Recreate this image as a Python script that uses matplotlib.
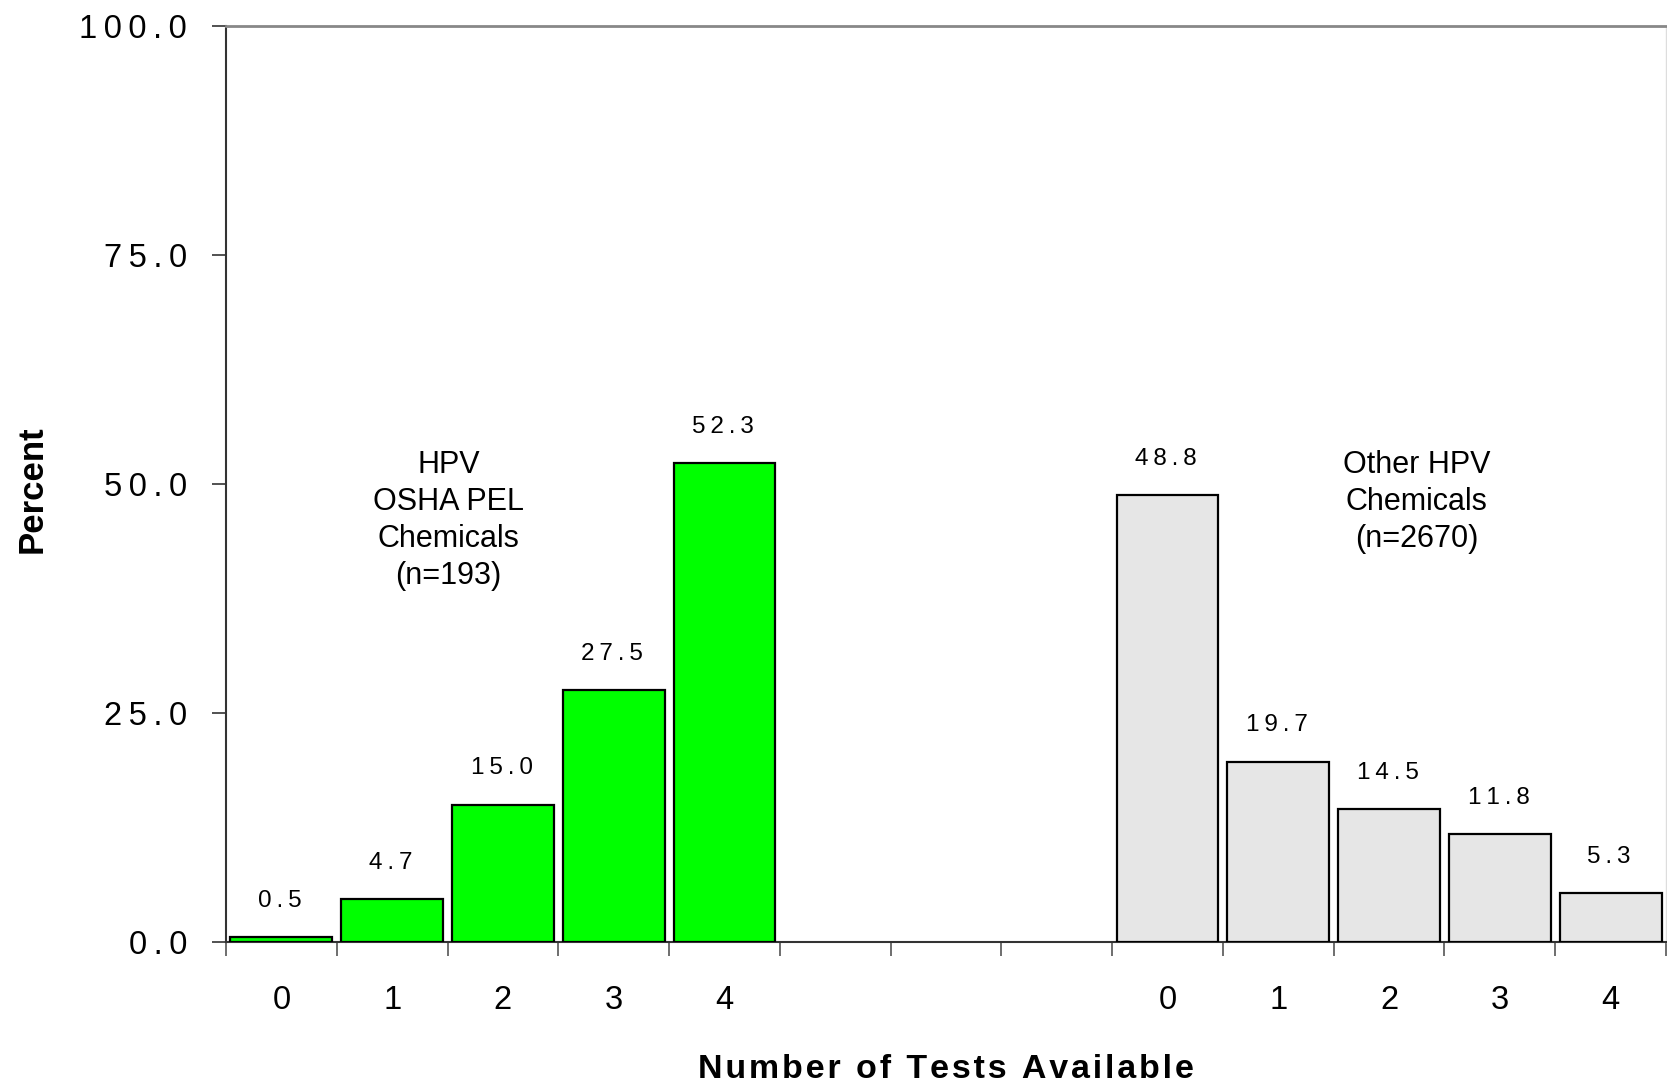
import matplotlib
matplotlib.use("Agg")
import matplotlib.pyplot as plt
import numpy as np

plt.rcParams['font.family'] = ['Liberation Sans', 'DejaVu Sans']

# data
tests = ["0", "1", "2", "3", "4"]
osha_pct = [0.5, 4.7, 15.0, 27.5, 52.3]
other_pct = [48.8, 19.7, 14.5, 11.8, 5.3]
y_ticks = [0.0, 25.0, 50.0, 75.0, 100.0]

def spaced(s, sep="\u2009"):
    return sep.join(s)

fig = plt.figure(figsize=(16.67, 10.88), dpi=100)
ax = fig.add_axes([226 / 1667, 1 - 942 / 1088, (1666 - 226) / 1667, (942 - 26) / 1088])

x1 = np.arange(5)
x2 = np.arange(5) + 8
ax.bar(x1, osha_pct, width=0.92, color="#00FF00", edgecolor="black", linewidth=1.6, zorder=3)
ax.bar(x2, other_pct, width=0.92, color="#E6E6E6", edgecolor="black", linewidth=1.6, zorder=3)

for xs, vals in ((x1, osha_pct), (x2, other_pct)):
    for x, v in zip(xs, vals):
        ax.annotate(spaced(f"{v:.1f}"), (x, v), xytext=(-1, 26), textcoords="offset points",
                    ha="center", va="center", fontsize=17.5)

ax.text(1.51, 46.0, "HPV\nOSHA PEL\nChemicals\n(n=193)", ha="center", va="center",
        fontsize=22, linespacing=1.3)
ax.text(10.25, 48.0, "Other HPV\nChemicals\n(n=2670)", ha="center", va="center",
        fontsize=22, linespacing=1.3)

ax.set_xlim(-0.5, 12.5)
ax.set_ylim(0, 100)

ax.set_yticks(y_ticks)
ax.set_yticklabels([spaced(f"{v:.1f}") for v in y_ticks], fontsize=23.5)
ax.tick_params(axis="y", length=10, width=1.2, color="#333333", pad=18)

ax.set_xticks(np.arange(-0.5, 13.0, 1.0))
ax.set_xticklabels([])
ax.tick_params(axis="x", which="major", length=10, width=1.2, color="#555555")
ax.set_xticks(list(x1) + list(x2), minor=True)
ax.set_xticklabels(tests + tests, minor=True, fontsize=23.5)
ax.tick_params(axis="x", which="minor", length=0, pad=31)

for side in ("left", "bottom"):
    ax.spines[side].set_color("#333333")
    ax.spines[side].set_linewidth(1.5)
ax.spines["top"].set_color("#888888")
ax.spines["top"].set_linewidth(2)
ax.spines["right"].set_color("#dddddd")
ax.spines["right"].set_linewidth(1)

fig.text(946 / 1667, 1 - 1070 / 1088, spaced("Number of Tests Available", "\u200a"),
         ha="center", va="center", fontsize=24.5, fontweight="bold")
fig.text(32 / 1667, 1 - 489 / 1088, "Percent", ha="center", va="center", rotation=90,
         fontsize=25, fontweight="bold")

fig.savefig("out.png", dpi=100, facecolor="white")
